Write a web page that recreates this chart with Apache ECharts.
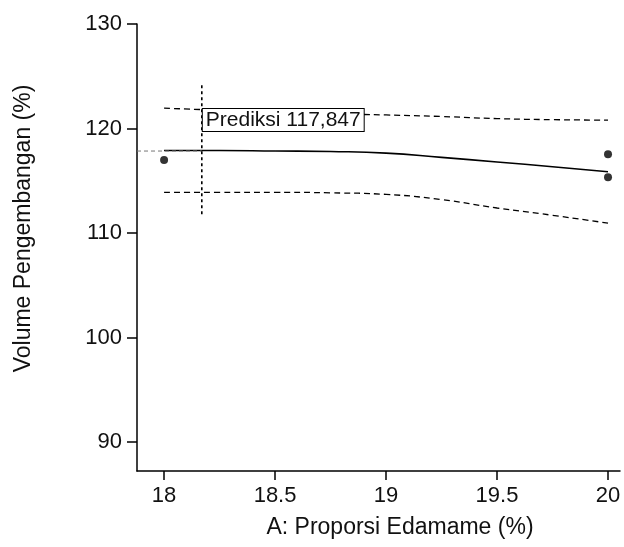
<!DOCTYPE html>
<html>
<head>
<meta charset="utf-8">
<script src="https://cdn.jsdelivr.net/npm/echarts@6/dist/echarts.min.js"></script>
<style>html,body{margin:0;padding:0;background:#fff}#c{width:624px;height:547px}</style>
</head>
<body>
<div id="c"></div>
<script>
var xTicks = [18, 18.5, 19, 19.5, 20];
var yTicks = [90, 100, 110, 120, 130];
var fitX   = [18, 18.25, 18.5, 18.75, 19, 19.25, 19.5, 19.75, 20];
var fitY   = [117.9, 117.9, 117.85, 117.8, 117.65, 117.24, 116.8, 116.35, 115.87];
var upperY = [121.95, 121.75, 121.55, 121.4, 121.3, 121.15, 120.95, 120.85, 120.8];
var lowerY = [113.9, 113.9, 113.9, 113.85, 113.7, 113.2, 112.4, 111.7, 110.95];
var obsX   = [18, 20, 20];
var obsY   = [117.0, 117.55, 115.35];
var predX  = 18.17;
var predY  = 117.847;
var predLabel = 'Prediksi 117,847';
var crossYLow = 111.8, crossYHigh = 124.4;
var xMin = 17.878, xMax = 20.054, yMin = 87.24, yMax = 130;

function pairs(xs, ys){ return xs.map(function(x,i){ return [x, ys[i]]; }); }

var font = 'Liberation Sans, Arial, sans-serif';
var chart = echarts.init(document.getElementById('c'), null, {renderer:'canvas'});
var option = {
  animation:false,
  backgroundColor:'#fff',
  grid:{left:137, top:24, width:483, height:447, containLabel:false},
  xAxis:{
    type:'value', min:xMin, max:xMax,
    name:'A: Proporsi Edamame (%)', nameLocation:'middle', nameGap:45,
    nameTextStyle:{color:'#111', fontSize:23, fontFamily:font, padding:[0,0,0,43]},
    axisLine:{show:true, onZero:false, lineStyle:{color:'#000', width:1.5}},
    axisTick:{show:true, length:9, customValues:xTicks, lineStyle:{color:'#000', width:1.5}},
    axisLabel:{customValues:xTicks, margin:14, color:'#111', fontSize:22, fontFamily:font},
    splitLine:{show:false}
  },
  yAxis:{
    type:'value', min:yMin, max:yMax,
    name:'Volume Pengembangan (%)', nameLocation:'middle', nameGap:102,
    nameTextStyle:{color:'#111', fontSize:23, fontFamily:font, padding:[0,0,0,38]},
    axisLine:{show:true, onZero:false, lineStyle:{color:'#000', width:1.5}},
    axisTick:{show:true, length:10, customValues:yTicks, lineStyle:{color:'#000', width:1.5}},
    axisLabel:{customValues:yTicks, margin:15, color:'#111', fontSize:22, fontFamily:font},
    splitLine:{show:false}
  },
  series:[
    {type:'line', data:pairs(fitX, upperY), showSymbol:false, smooth:true,
     lineStyle:{color:'#000', width:1.3, type:[6,4]}},
    {type:'line', data:pairs(fitX, lowerY), showSymbol:false, smooth:true,
     lineStyle:{color:'#000', width:1.3, type:[6,4]}},
    {type:'line', data:pairs(fitX, fitY), showSymbol:false, smooth:true,
     lineStyle:{color:'#000', width:1.6}},
    {type:'line', data:[[xMin, predY],[predX, predY]], showSymbol:false,
     lineStyle:{color:'#777', width:1, type:[4,3]}},
    {type:'line', data:[[predX, crossYLow],[predX, crossYHigh]], showSymbol:false,
     lineStyle:{color:'#000', width:1.6, type:[3,3]}},
    {type:'scatter', data:pairs(obsX, obsY), symbol:'circle', symbolSize:8,
     itemStyle:{color:'#000'}}
  ]
};
chart.setOption(option);
var p = chart.convertToPixel({gridIndex:0}, [predX, predY]);
chart.setOption({
  graphic:[{
    type:'text', left:p[0], top:p[1]-43, z:100,
    style:{text:predLabel, fill:'#111', font:'21px ' + font,
      backgroundColor:'#fff', borderColor:'#000', borderWidth:1,
      padding:[0,3,0,3], lineHeight:22}
  }]
});
</script>
</body>
</html>
